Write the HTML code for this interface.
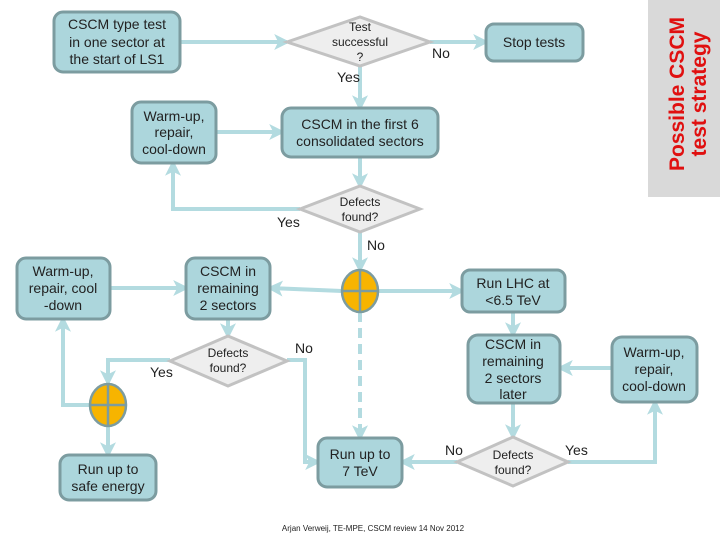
<!DOCTYPE html>
<html><head><meta charset="utf-8"><style>
html,body{margin:0;padding:0;background:#fff;}
svg{display:block;font-family:"Liberation Sans",sans-serif;}
</style></head><body>
<svg width="720" height="540" viewBox="0 0 720 540" xmlns="http://www.w3.org/2000/svg">
<defs>
<marker id="a" markerWidth="4" markerHeight="4" refX="3.2" refY="2" orient="auto" markerUnits="strokeWidth">
<path d="M0,0 L4,2 L0,4 L1,2 Z" fill="#b3dbe0"/>
</marker>
</defs>
<rect x="648" y="0" width="72" height="197" fill="#d9d9d9"/>
<g transform="translate(684,94) rotate(-90)" fill="#e01010" font-weight="bold" font-size="21" text-anchor="middle">
<text x="0" y="0">Possible CSCM</text>
<text x="0" y="22">test strategy</text>
</g>

<g stroke="#b3dbe0" stroke-width="4" fill="none">
<line x1="180" y1="42" x2="287" y2="42" marker-end="url(#a)"/>
<line x1="430" y1="42" x2="486" y2="42" marker-end="url(#a)"/>
<line x1="360" y1="66" x2="360" y2="108" marker-end="url(#a)"/>
<line x1="216" y1="132" x2="282" y2="132" marker-end="url(#a)"/>
<line x1="360" y1="157" x2="360" y2="186" marker-end="url(#a)"/>
<polyline points="300,209 173,209 173,163" marker-end="url(#a)"/>
<line x1="360" y1="232" x2="360" y2="270" marker-end="url(#a)"/>
<line x1="110" y1="288" x2="186" y2="288" marker-end="url(#a)"/>
<line x1="342" y1="291" x2="270" y2="288" marker-end="url(#a)"/>
<line x1="378" y1="291" x2="462" y2="291" marker-end="url(#a)"/>
<line x1="360" y1="312" x2="360" y2="438" stroke-dasharray="10,6" marker-end="url(#a)"/>
<line x1="513" y1="312" x2="513" y2="335" marker-end="url(#a)"/>
<line x1="612" y1="368" x2="560" y2="368" marker-end="url(#a)"/>
<line x1="513" y1="403" x2="513" y2="437" marker-end="url(#a)"/>
<line x1="457" y1="462" x2="402" y2="462" marker-end="url(#a)"/>
<polyline points="568,462 655,462 655,402" marker-end="url(#a)"/>
<line x1="228" y1="319" x2="228" y2="336" marker-end="url(#a)"/>
<polyline points="170,360 108,360 108,383" marker-end="url(#a)"/>
<polyline points="90,405 63,405 63,319" marker-end="url(#a)"/>
<line x1="108" y1="427" x2="108" y2="455" marker-end="url(#a)"/>
<polyline points="287,360 305,360 305,462 318,462" marker-end="url(#a)"/>
</g>

<g fill="#acd6dc" stroke="#7c9ca0" stroke-width="3">
<rect x="54" y="12" width="126" height="60" rx="9"/>
<rect x="486" y="24" width="97" height="37" rx="8"/>
<rect x="132" y="102" width="84" height="61" rx="9"/>
<rect x="282" y="108" width="156" height="49" rx="9"/>
<rect x="17" y="258" width="93" height="61" rx="9"/>
<rect x="186" y="258" width="84" height="61" rx="9"/>
<rect x="462" y="270" width="103" height="42" rx="8"/>
<rect x="468" y="335" width="92" height="68" rx="10"/>
<rect x="612" y="337" width="85" height="65" rx="10"/>
<rect x="318" y="438" width="84" height="49" rx="9"/>
<rect x="60" y="455" width="96" height="45" rx="9"/>
</g>

<g fill="#eeeeee" stroke="#c2c2c2" stroke-width="3">
<polygon points="287,42 360,17 430,42 360,66"/>
<polygon points="300,209 360,186 420,209 360,232"/>
<polygon points="170,361 228,336 287,361 228,386"/>
<polygon points="457,462 513,437 568,462 513,486"/>
</g>

<g stroke="#7c9ca0" stroke-width="2.5">
<ellipse cx="360" cy="291" rx="18" ry="21" fill="#f7b400"/>
<line x1="342" y1="291" x2="378" y2="291"/><line x1="360" y1="270" x2="360" y2="312"/>
<ellipse cx="108" cy="405" rx="18" ry="21" fill="#f7b400"/>
<line x1="90" y1="405" x2="126" y2="405"/><line x1="108" y1="384" x2="108" y2="426"/>
</g>

<g font-size="14" fill="#222" text-anchor="middle">
<text x="117" y="29">CSCM type test</text><text x="117" y="47">in one sector at</text><text x="117" y="64">the start of LS1</text>
<text x="534" y="47">Stop tests</text>
<text x="174" y="121">Warm-up,</text><text x="174" y="137">repair,</text><text x="174" y="154">cool-down</text>
<text x="360" y="129">CSCM in the first 6</text><text x="360" y="146">consolidated sectors</text>
<text x="63" y="276">Warm-up,</text><text x="63" y="293">repair, cool</text><text x="63" y="310">-down</text>
<text x="228" y="276">CSCM in</text><text x="228" y="293">remaining</text><text x="228" y="310">2 sectors</text>
<text x="513" y="288">Run LHC at</text><text x="513" y="305">&lt;6.5 TeV</text>
<text x="513" y="349">CSCM in</text><text x="513" y="366">remaining</text><text x="513" y="383">2 sectors</text><text x="513" y="399">later</text>
<text x="654" y="357">Warm-up,</text><text x="654" y="374">repair,</text><text x="654" y="391">cool-down</text>
<text x="360" y="459">Run up to</text><text x="360" y="476">7 TeV</text>
<text x="108" y="474">Run up to</text><text x="108" y="491">safe energy</text>
</g>
<g font-size="12" fill="#222" text-anchor="middle">
<text x="360" y="31">Test</text><text x="360" y="46">successful</text><text x="360" y="61">?</text>
<text x="360" y="206">Defects</text><text x="360" y="221">found?</text>
<text x="228" y="357">Defects</text><text x="228" y="372">found?</text>
<text x="513" y="459">Defects</text><text x="513" y="474">found?</text>
</g>
<g font-size="14" fill="#222">
<text x="432" y="58">No</text>
<text x="337" y="82">Yes</text>
<text x="277" y="227">Yes</text>
<text x="367" y="250">No</text>
<text x="150" y="377">Yes</text>
<text x="295" y="353">No</text>
<text x="445" y="455">No</text>
<text x="565" y="455">Yes</text>
</g>
<text x="373" y="531" font-size="8" fill="#222" text-anchor="middle">Arjan Verweij, TE-MPE, CSCM review 14 Nov 2012</text>
</svg>
</body></html>
